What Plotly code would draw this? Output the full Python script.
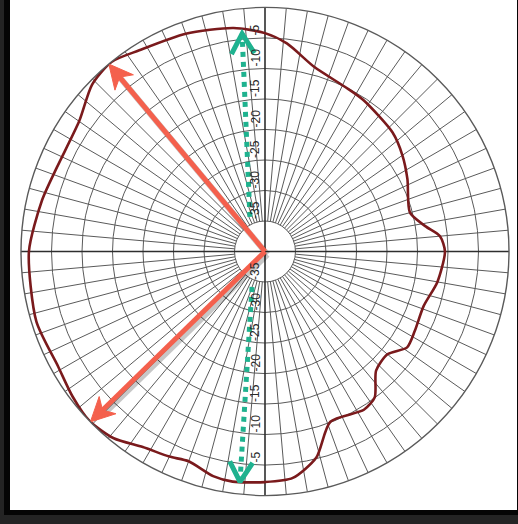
import math
import plotly.graph_objects as go

# ---- data -----------------------------------------------------------------
# Measured radiation pattern, relative level in dB versus azimuth (degrees, CCW from east)
pattern_angle = [0, 5, 9, 15, 27, 35, 43, 57, 64, 75, 84, 90, 98, 110, 122, 129,
                 136, 145, 158, 167, 180, 197, 209, 217, 224, 231, 238, 245, 250,
                 257, 262, 270, 277, 284, 291, 302, 307, 313, 320, 326, 332, 341,
                 350, 360]
pattern_db = [-10.5, -11.2, -13.4, -15.4, -13.8, -12.5, -11.4, -10.4, -10.0, -8.7,
              -5.7, -4.2, -3.0, -2.0, -1.1, 0.0, -0.6, -2.8, -3.2, -2.5, -1.3, -0.8,
              -1.2, -0.5, 0.0, -0.6, -2.2, -2.9, -3.4, -2.2, -1.9, -2.2, -2.6, -5.2,
              -10.1, -9.4, -10.1, -13.3, -13.8, -11.9, -12.2, -12.5, -11.3, -10.5]

# Main-lobe markers (tip direction and level)
lobe_angle = [129.8, 224.3]
lobe_db = [0.0, 0.0]

# Dotted reference arrows: start and tip (angle, dB)
ref_start_angle = [113.5, 249.9]
ref_start_db = [-33.8, -33.8]
ref_tip_angle = [96.0, 263.8]
ref_tip_db = [-4.1, -2.0]

# Ring labels
ring_db = [-5, -10, -15, -20, -25, -30, -35]
ring_text = ["-5", "-10", "-15", "-20", "-25", "-30", "-35"]

# ---- geometry / style -------------------------------------------------------
W, H = 518, 524
CX, CY, R = 265.0, 251.5, 244.0          # plot centre and outer radius (px)
R_MIN, R_MAX = -40.0, 0.0
PX_PER_DB = R / (R_MAX - R_MIN)

GRID = "#5a5a5a"
AXIS = "#2e2e2e"
CURVE = "#7a1a1c"
RED = "#f4604d"
TEAL = "#1fb28f"


def to_xy(r, th):
    rho = r - R_MIN
    a = math.radians(th)
    return rho * math.cos(a), rho * math.sin(a)


def to_polar(x, y):
    return math.hypot(x, y) + R_MIN, math.degrees(math.atan2(y, x)) % 360


def head_polygon(r_tip, th_tip, r_tail, th_tail, length, half_w, notch):
    tx, ty = to_xy(r_tip, th_tip)
    bx, by = to_xy(r_tail, th_tail)
    d = math.hypot(tx - bx, ty - by)
    ux, uy = (tx - bx) / d, (ty - by) / d
    nx, ny = -uy, ux
    pts = [(tx, ty),
           (tx - length * ux + half_w * nx, ty - length * uy + half_w * ny),
           (tx - (length - notch) * ux, ty - (length - notch) * uy),
           (tx - length * ux - half_w * nx, ty - length * uy - half_w * ny),
           (tx, ty)]
    return [to_polar(x, y) for x, y in pts]


def chevron(r_tip, th_tip, r_tail, th_tail, arm, spread_deg):
    tx, ty = to_xy(r_tip, th_tip)
    bx, by = to_xy(r_tail, th_tail)
    back = math.atan2(by - ty, bx - tx)
    s = math.radians(spread_deg)
    p1 = (tx + arm * math.cos(back + s), ty + arm * math.sin(back + s))
    p2 = (tx + arm * math.cos(back - s), ty + arm * math.sin(back - s))
    return [to_polar(*p) for p in (p1, (tx, ty), p2)]


fig = go.Figure()

# spokes every 5 degrees starting at the first ring
sr, st = [], []
for a in range(0, 360, 5):
    if a % 90 == 0:
        continue
    sr += [-35, 0, None]
    st += [a, a, None]
fig.add_trace(go.Scatterpolar(r=sr, theta=st, mode="lines",
                              line=dict(color=GRID, width=1), hoverinfo="skip",
                              showlegend=False))
# main cross through the centre
fig.add_trace(go.Scatterpolar(r=[0, 0, None, 0, 0], theta=[0, 180, None, 90, 270],
                              mode="lines", line=dict(color=AXIS, width=1.6),
                              hoverinfo="skip", showlegend=False))

# pattern curve
fig.add_trace(go.Scatterpolar(r=pattern_db, theta=pattern_angle, mode="lines",
                              line=dict(color=CURVE, width=2.6, shape="spline",
                                        smoothing=0.7),
                              hoverinfo="skip", showlegend=False))

# dotted reference arrows
for i in range(2):
    fig.add_trace(go.Scatterpolar(r=[ref_start_db[i], ref_tip_db[i]],
                                  theta=[ref_start_angle[i], ref_tip_angle[i]],
                                  mode="lines",
                                  line=dict(color=TEAL, width=5, dash="5px,5px"),
                                  hoverinfo="skip", showlegend=False))
    ch = chevron(ref_tip_db[i], ref_tip_angle[i], ref_start_db[i], ref_start_angle[i],
                 23 / PX_PER_DB, 30)
    fig.add_trace(go.Scatterpolar(r=[p[0] for p in ch], theta=[p[1] for p in ch],
                                  mode="lines", line=dict(color=TEAL, width=5),
                                  hoverinfo="skip", showlegend=False))

# main-lobe arrows (with a soft drop shadow)
sh = 3 / PX_PER_DB
for i in range(2):
    tx, ty = to_xy(lobe_db[i], lobe_angle[i])
    ux, uy = tx / math.hypot(tx, ty), ty / math.hypot(tx, ty)
    ex, ey = tx - 15 / PX_PER_DB * ux, ty - 15 / PX_PER_DB * uy
    s0 = to_polar(sh * 0.8, -sh)
    s1 = to_polar(ex + sh * 0.8, ey - sh)
    fig.add_trace(go.Scatterpolar(r=[s0[0], s1[0]], theta=[s0[1], s1[1]], mode="lines",
                                  line=dict(color="rgba(0,0,0,0.22)", width=6),
                                  hoverinfo="skip", showlegend=False))
    e = to_polar(ex, ey)
    fig.add_trace(go.Scatterpolar(r=[R_MIN, e[0]], theta=[lobe_angle[i], e[1]],
                                  mode="lines", line=dict(color=RED, width=5),
                                  hoverinfo="skip", showlegend=False))
    hp = head_polygon(lobe_db[i], lobe_angle[i], R_MIN, lobe_angle[i],
                      24 / PX_PER_DB, 12 / PX_PER_DB, 7 / PX_PER_DB)
    fig.add_trace(go.Scatterpolar(r=[p[0] for p in hp], theta=[p[1] for p in hp],
                                  mode="lines", fill="toself", fillcolor=RED,
                                  line=dict(color=RED, width=1),
                                  hoverinfo="skip", showlegend=False))

# ring labels above and below the centre
annotations = []
for v, t in zip(ring_db, ring_text):
    d = (v - R_MIN) * PX_PER_DB
    for sign in (-1, 1):
        y_px = CY + sign * d
        annotations.append(dict(
            x=264 / W, y=1 - y_px / H, xref="paper", yref="paper",
            text=t, showarrow=False, textangle=-90,
            xanchor="right", yanchor="bottom",
            font=dict(family="Liberation Sans, Arial, sans-serif", size=12,
                      color="#2a2a2a")))

fig.update_layout(
    width=W, height=H,
    margin=dict(l=0, r=0, t=0, b=0),
    paper_bgcolor="#242424",
    plot_bgcolor="white",
    showlegend=False,
    shapes=[
        dict(type="rect", xref="paper", yref="paper", x0=4 / W, x1=1, y0=1 - 515 / H,
             y1=1, fillcolor="#050505", line=dict(width=0), layer="below"),
        dict(type="rect", xref="paper", yref="paper", x0=10 / W, x1=517 / W,
             y0=1 - 510 / H, y1=1, fillcolor="white", line=dict(width=0),
             layer="below"),
    ],
    annotations=annotations,
    polar=dict(
        domain=dict(x=[(CX - R) / W, (CX + R) / W],
                    y=[(H - CY - R) / H, (H - CY + R) / H]),
        bgcolor="white",
        radialaxis=dict(range=[R_MIN, R_MAX], tick0=-40, dtick=5,
                        showticklabels=False, ticks="", showline=False,
                        gridcolor=GRID, gridwidth=1),
        angularaxis=dict(showgrid=False, showticklabels=False, ticks="",
                         showline=True, linecolor=GRID, linewidth=1.4,
                         rotation=0, direction="counterclockwise"),
    ),
)

fig.write_html("out.html")
